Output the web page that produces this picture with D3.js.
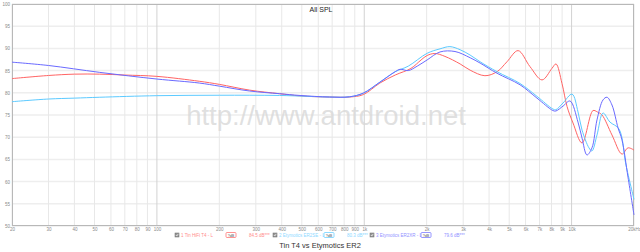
<!DOCTYPE html>
<html>
<head>
<meta charset="utf-8">
<script src="https://cdn.jsdelivr.net/npm/d3@7"></script>
<style>
  body { margin: 0; background: #fff; }
  svg { display: block; font-family: "Liberation Sans", Arial, sans-serif; }
</style>
</head>
<body>
<svg id="chart" width="640" height="252"></svg>
<script>
// frequency response, [Hz, dB]
var tinT4 = [[20,83.2],[30,83.9],[40,84.2],[53,84.2],[70,84.0],[100,83.7],[160,82.6],[200,81.9],[280,80.6],
  [390,79.8],[490,79.3],[680,79.05],[850,79.05],[990,79.6],[1190,82.2],[1410,84.0],[1680,85.5],[1880,87.4],
  [2010,88.4],[2190,88.85],[2450,88.2],[2900,86.5],[3240,85.1],[3820,83.85],[4370,84.75],[4880,87.0],
  [5520,89.5],[6300,85.9],[7200,82.9],[8040,85.5],[8410,86.5],[8990,82.1],[9510,76.9],[10160,73.2],
  [11230,68.7],[12680,76.0],[13300,75.7],[14020,75.0],[15660,70.5],[17500,66.2],[18710,67.6],[20000,67.1]];

var er2se = [[20,78.0],[30,78.6],[40,78.8],[53,79.0],[100,79.35],[200,79.45],[390,79.4],[680,79.05],
  [850,79.1],[990,79.9],[1190,82.4],[1410,84.75],[1630,86.0],[2010,88.9],[2320,89.9],[2590,90.4],
  [2900,89.7],[3240,88.5],[3620,87.0],[4370,84.75],[5640,82.1],[6810,79.2],[8130,76.35],[8400,76.2],
  [9090,77.7],[10050,79.7],[10740,75.7],[11230,71.6],[12130,67.6],[12540,66.9],[13260,70.5],[14180,75.45],
  [15320,73.4],[16930,71.85],[18300,63.7],[20000,56.0]];

var er2xr = [[20,86.9],[30,86.15],[53,84.6],[100,83.1],[160,82.2],[200,81.5],[280,80.4],[390,79.8],
  [490,79.4],[680,79.05],[850,79.1],[990,79.95],[1190,82.4],[1410,84.75],[1490,85.3],[1630,85.0],
  [1800,86.0],[2010,87.4],[2320,89.2],[2740,89.3],[3240,87.9],[3620,86.7],[4370,84.4],[5640,81.8],
  [6810,78.8],[8130,76.0],[8400,75.9],[9090,77.0],[9830,78.15],[10740,73.4],[11230,69.8],[11860,66.0],
  [12540,67.6],[13260,73.9],[14180,78.4],[14820,79.0],[15660,77.25],[16750,72.1],[17500,69.4],
  [18710,61.0],[20000,52.5]];

var seriesNames = ["1 Tin HiFi T4 - L", "2 Etymotics ER2SE - L", "3 Etymotics ER2XR - L"];
var seriesLevels = ["84.5 dB***", "80.3 dB***", "79.6 dB***"];
var seriesColors = ["#ff6464", "#5ccaff", "#6a6aff"];
var legendColors = ["#ff8c8c", "#8cd8ff", "#9090ff"];

var xTicks = [20,30,40,50,60,70,80,90,100,200,300,400,500,600,700,800,900,1000,
  2000,3000,4000,5000,6000,7000,8000,9000,10000,20000];
var xTickLabels = ["20","30","40","50","60","70","80","90","100","200","300","400","500","600","700","800","900","1k",
  "2k","3k","4k","5k","6k","7k","8k","9k","10k","20kHz"];
var yTicks = [50,55,60,65,70,75,80,85,90,95,100];

var svg = d3.select("#chart");
var plotL = 12, plotR = 634, plotT = 4, plotB = 226;

var x = d3.scaleLog().domain([20, 20000]).range([plotL, plotR]);
var y = d3.scaleLinear().domain([50, 100]).range([plotB, plotT]);

// grid
svg.append("g").selectAll("line").data(yTicks).join("line")
  .attr("x1", plotL).attr("x2", plotR)
  .attr("y1", function (d) { return y(d); }).attr("y2", function (d) { return y(d); })
  .attr("stroke", "#eeeeee").attr("stroke-width", 1.5);

svg.append("g").selectAll("line").data(xTicks).join("line")
  .attr("x1", function (d) { return x(d); }).attr("x2", function (d) { return x(d); })
  .attr("y1", plotT).attr("y2", plotB)
  .attr("stroke", function (d) { return (d === 100 || d === 1000 || d === 10000) ? "#d2d2d2" : "#e8e8e8"; })
  .attr("stroke-width", 1);

// frame
svg.append("rect").attr("x", plotL + 0.5).attr("y", plotT + 0.5)
  .attr("width", plotR - plotL - 1).attr("height", plotB - plotT - 1)
  .attr("fill", "none").attr("stroke", "#b8b8b8").attr("stroke-width", 1);

// axes labels
var xAxis = svg.append("g").attr("transform", "translate(0," + (plotB + 1) + ")")
  .call(d3.axisBottom(x).tickValues(xTicks).tickSize(0).tickPadding(1)
    .tickFormat(function (d, i) { return xTickLabels[i]; }));
xAxis.select(".domain").remove();
xAxis.selectAll("text").attr("font-size", 4.5).attr("fill", "#8a8a8a").attr("font-family", null);

var yAxis = svg.append("g").attr("transform", "translate(" + (plotL - 1) + ",0)")
  .call(d3.axisLeft(y).tickValues(yTicks).tickSize(0).tickPadding(1));
yAxis.select(".domain").remove();
yAxis.selectAll("text").attr("font-size", 4.5).attr("fill", "#8a8a8a").attr("font-family", null);

// watermark
svg.append("text").attr("x", 326).attr("y", 125).attr("text-anchor", "middle")
  .attr("font-size", 27.5).attr("fill", "#d8d8d8").attr("fill-opacity", 0.8)
  .text("http://www.antdroid.net");

// curves
var line = d3.line()
  .x(function (d) { return x(d[0]); })
  .y(function (d) { return y(d[1]); })
  .curve(d3.curveCatmullRom.alpha(0.5));

[tinT4, er2se, er2xr].forEach(function (data, i) {
  svg.append("path").datum(data)
    .attr("d", line)
    .attr("fill", "none")
    .attr("stroke", seriesColors[i])
    .attr("stroke-width", 1);
});

// titles
svg.append("text").attr("x", 321).attr("y", 12).attr("text-anchor", "middle")
  .attr("font-size", 7).attr("fill", "#222").text("All SPL");
svg.append("text").attr("x", 320).attr("y", 248).attr("text-anchor", "middle")
  .attr("font-size", 7.5).attr("fill", "#333").text("Tin T4 vs Etymotics ER2");

// legend
var legendX = [175, 273, 370];
var legend = svg.append("g").selectAll("g").data(seriesNames).join("g")
  .attr("transform", function (d, i) { return "translate(" + legendX[i] + ",233)"; });

legend.append("rect").attr("x", 0).attr("y", 0).attr("width", 4).attr("height", 4)
  .attr("fill", "#999").attr("stroke", "#666").attr("stroke-width", 0.5);
legend.append("path").attr("d", "M0.8,2 L1.8,3 L3.3,0.8").attr("fill", "none")
  .attr("stroke", "#fff").attr("stroke-width", 0.6);
legend.append("text").attr("x", 6).attr("y", 3.8).attr("font-size", 4.5)
  .attr("fill", function (d, i) { return legendColors[i]; }).text(function (d) { return d; });
legend.append("rect").attr("x", 51).attr("y", -0.5).attr("width", 10).attr("height", 5).attr("rx", 1)
  .attr("fill", "#fff").attr("stroke", function (d, i) { return seriesColors[i]; }).attr("stroke-width", 0.7);
legend.append("text").attr("x", 56).attr("y", 3.6).attr("text-anchor", "middle").attr("font-size", 3.6)
  .attr("fill", "#555").text("?dB");
legend.append("text").attr("x", 74).attr("y", 3.8).attr("font-size", 4.5)
  .attr("fill", function (d, i) { return legendColors[i]; }).text(function (d, i) { return seriesLevels[i]; });
</script>
</body>
</html>
